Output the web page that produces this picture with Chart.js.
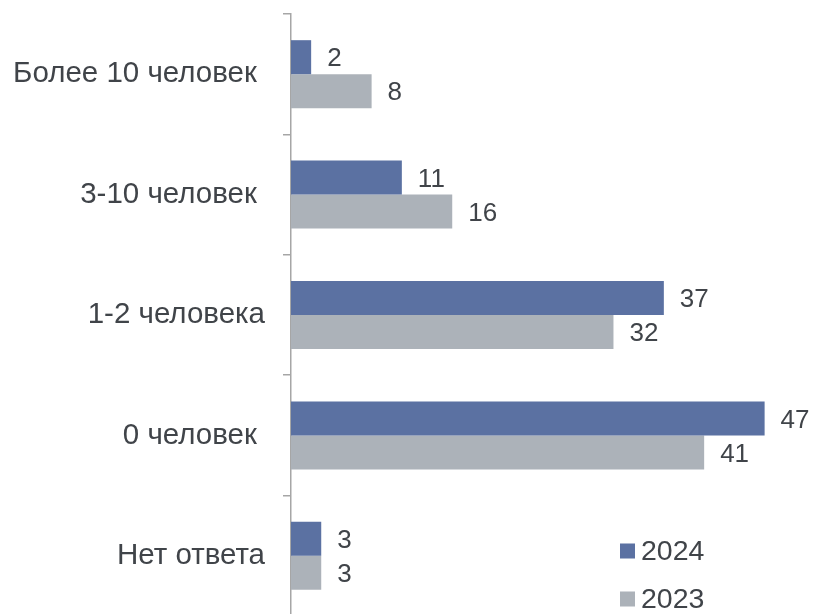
<!DOCTYPE html>
<html lang="ru">
<head>
  <meta charset="UTF-8">
  <title>Опрос: количество человек</title>
  <script src="https://cdn.jsdelivr.net/npm/chart.js@4"></script>
  <style>
    body { margin: 0; background: #fff; overflow: hidden; }
    #wrap { position: relative; width: 815px; height: 620px; }
  </style>
</head>
<body>
  <div id="wrap">
    <canvas id="peopleChart"></canvas>
  </div>

  <script>
    // data
    const categories = ['Более 10 человек ', '3-10 человек ', '1-2 человека', '0 человек ', 'Нет ответа'];
    const values2024 = [2, 11, 37, 47, 3];
    const values2023 = [8, 16, 32, 41, 3];
    const seriesNames = ['2024', '2023'];

    const textColor = '#404449';
    const blue = '#5b71a2';
    const grey = '#acb2b9';
    const fontFamily = '"Liberation Sans", Arial, sans-serif';

    // value labels at the end of each bar
    const valueLabels = {
      id: 'valueLabels',
      afterDatasetsDraw(chart) {
        const ctx = chart.ctx;
        ctx.save();
        ctx.font = '26px ' + fontFamily;
        ctx.fillStyle = textColor;
        ctx.textAlign = 'left';
        ctx.textBaseline = 'middle';
        chart.data.datasets.forEach((ds, i) => {
          chart.getDatasetMeta(i).data.forEach((bar, j) => {
            ctx.fillText(ds.data[j], bar.x + 16, bar.y + 2);
          });
        });
        ctx.restore();
      }
    };

    // legend in the lower right corner of the plot
    const cornerLegend = {
      id: 'cornerLegend',
      afterDraw(chart) {
        const ctx = chart.ctx;
        ctx.save();
        ctx.font = '28.5px ' + fontFamily;
        ctx.textBaseline = 'middle';
        chart.data.datasets.forEach((ds, i) => {
          const y = 551 + i * 48;
          ctx.fillStyle = ds.backgroundColor;
          ctx.fillRect(620, y - 7.5, 15, 15);
          ctx.fillStyle = textColor;
          ctx.fillText(ds.label, 641, y + 1);
        });
        ctx.restore();
      }
    };

    new Chart(document.getElementById('peopleChart'), {
      type: 'bar',
      data: {
        labels: categories,
        datasets: [
          { label: seriesNames[0], data: values2024, backgroundColor: blue },
          { label: seriesNames[1], data: values2023, backgroundColor: grey }
        ]
      },
      options: {
        indexAxis: 'y',
        responsive: true,
        maintainAspectRatio: false,
        animation: false,
        datasets: {
          bar: { categoryPercentage: 0.565, barPercentage: 1 }
        },
        layout: { padding: { top: 14, bottom: 4, left: 0, right: 0 } },
        plugins: {
          legend: { display: false },
          tooltip: { enabled: false }
        },
        scales: {
          x: {
            display: false,
            min: 0,
            max: 52
          },
          y: {
            afterFit(scale) {
              scale.width = 291;
              scale.paddingTop = 0;
              scale.paddingBottom = 0;
            },
            grid: {
              drawOnChartArea: false,
              tickLength: 8,
              color: '#a6a6a6',
              lineWidth: 1.5
            },
            border: { color: '#a6a6a6', width: 1.5 },
            ticks: {
              padding: 18,
              color: textColor,
              font: { size: 29.5, family: fontFamily }
            }
          }
        }
      },
      plugins: [valueLabels, cornerLegend]
    });
  </script>
</body>
</html>
